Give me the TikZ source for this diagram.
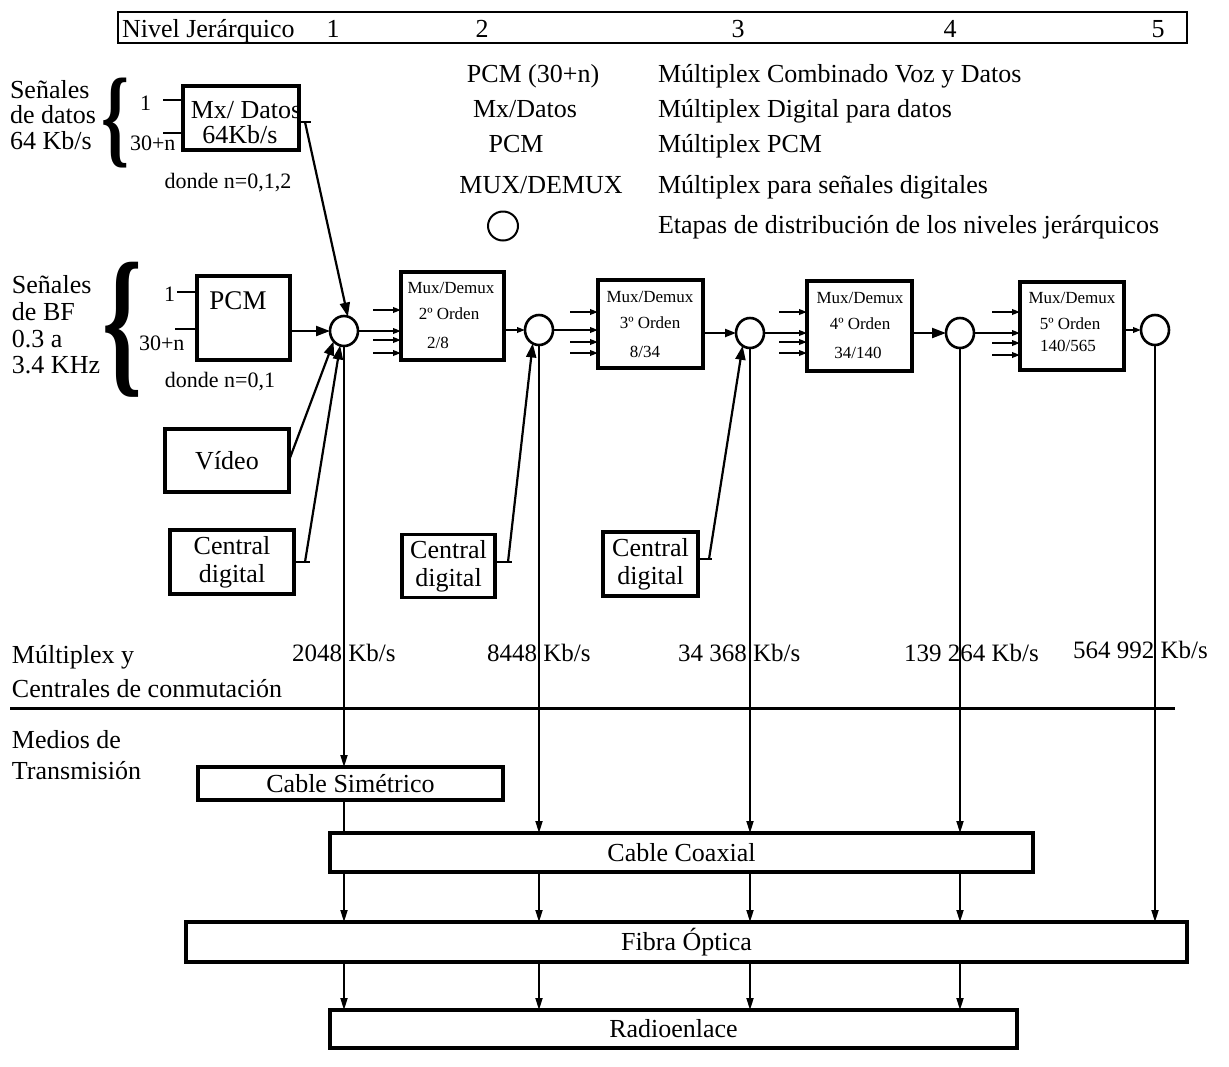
\documentclass[tikz,border=0pt]{standalone}
\usepackage{fontspec}
\setmainfont{Liberation Serif}
\usepackage{graphicx}
\usetikzlibrary{arrows.meta,shapes.geometric}
\begin{document}
\begin{tikzpicture}[x=1pt,y=1pt,
  every node/.style={inner sep=0pt, outer sep=0pt},
  big/.style={font=\fontsize{26}{28}\selectfont},
  mid/.style={font=\fontsize{22}{22}\selectfont},
  small/.style={font=\fontsize{17}{17}\selectfont},
  rate/.style={font=\fontsize{25}{25}\selectfont},
  blk/.style={draw, rectangle, line width=3.2pt},
  stage/.style={draw, ellipse, line width=2.6pt, minimum width=28pt, minimum height=30pt},
  wire/.style={line width=2.2pt},
  bigarrow/.style={line width=2.2pt, -{Triangle[length=14pt,width=10pt]}},
  midarrow/.style={line width=2.2pt, -{Triangle[length=11pt,width=8pt]}},
  inarrow/.style={line width=2.2pt, -{Triangle[length=8pt,width=5.5pt]}},
  varrow/.style={line width=1.8pt, -{Triangle[length=12pt,width=7pt]}},
  vline/.style={line width=1.8pt}
]
\useasboundingbox (0,0) rectangle (1229,-1066);

% ---- hierarchy header ----
\node[draw, line width=2.4pt, minimum width=1069pt, minimum height=31pt] (hdr) at (652.5,-27.5) {};
\node[big, anchor=base west] (hdrt) at (122,-37) {Nivel Jerárquico};
\node[big, anchor=base] (lv1) at (333,-37) {1};
\node[big, anchor=base] (lv2) at (482,-37) {2};
\node[big, anchor=base] (lv3) at (738,-37) {3};
\node[big, anchor=base] (lv4) at (950,-37) {4};
\node[big, anchor=base] (lv5) at (1158,-37) {5};

% ---- legend ----
\node[big, anchor=base] (lg1) at (533,-82) {PCM (30+n)};
\node[big, anchor=base] (lg2) at (525,-117) {Mx/Datos};
\node[big, anchor=base] (lg3) at (516,-152) {PCM};
\node[big, anchor=base] (lg4) at (541,-193) {MUX/DEMUX};
\node[draw, ellipse, line width=2pt, minimum width=30pt, minimum height=29pt] (lgc) at (503,-226) {};
\node[big, anchor=base west] (ld1) at (658,-82) {Múltiplex Combinado Voz y Datos};
\node[big, anchor=base west] (ld2) at (658,-117) {Múltiplex Digital para datos};
\node[big, anchor=base west] (ld3) at (658,-152) {Múltiplex PCM};
\node[big, anchor=base west] (ld4) at (658,-193) {Múltiplex para señales digitales};
\node[big, anchor=base west] (ld5) at (658,-233) {Etapas de distribución de los niveles jerárquicos};

% ---- data signals ----
\node[big, anchor=base west] (sd1) at (10,-98) {Señales};
\node[big, anchor=base west] (sd2) at (10,-123) {de datos};
\node[big, anchor=base west] (sd3) at (10,-149) {64 Kb/s};
\node (br1) at (116,-123) {\resizebox*{28pt}{90pt}{\bfseries\{}};
\node[blk, minimum width=116pt, minimum height=64pt] (mxd) at (241,-118) {};
\node[big, anchor=base] (mxdt1) at (246,-118) {Mx/ Datos};
\node[big, anchor=base] (mxdt2) at (240,-143) {64Kb/s};
\node[mid, anchor=base east] (mxi1) at (151,-110) {1};
\node[mid, anchor=base west] (mxi2) at (130,-150) {30+n};
\draw[wire] ([xshift=-20pt,yshift=18pt]mxd.west) -- ([yshift=18pt]mxd.west);
\draw[wire] ([xshift=-20pt,yshift=-15pt]mxd.west) -- ([yshift=-15pt]mxd.west);
\node[mid, anchor=base] (mxdn) at (228,-188) {donde n=0,1,2};
\draw[wire] ([yshift=-4pt]mxd.east) -- ++(12,0);
\coordinate (mxo) at ([xshift=6pt,yshift=-4pt]mxd.east);

% ---- voice band signals ----
\node[big, anchor=base west] (sb1) at (12,-293) {Señales};
\node[big, anchor=base west] (sb2) at (12,-320) {de BF};
\node[big, anchor=base west] (sb3) at (12,-347) {0.3 a};
\node[big, anchor=base west] (sb4) at (12,-373) {3.4 KHz};
\node (br2) at (123,-330) {\resizebox*{40pt}{135pt}{\bfseries\{}};
\node[blk, minimum width=93pt, minimum height=84pt] (pcm) at (243.5,-318) {};
\node[font=\fontsize{27}{27}\selectfont, anchor=base] (pcmt) at (238,-309) {PCM};
\node[mid, anchor=base east] (pci1) at (175,-301) {1};
\node[mid, anchor=base west] (pci2) at (139,-350) {30+n};
\draw[wire] ([xshift=-20pt,yshift=26pt]pcm.west) -- ([yshift=26pt]pcm.west);
\draw[wire] ([xshift=-22pt,yshift=-11pt]pcm.west) -- ([yshift=-11pt]pcm.west);
\node[mid, anchor=base] (pcmn) at (220,-387) {donde n=0,1};

% ---- distribution stages ----
\node[stage] (c1) at (344,-331) {};
\node[stage] (c2) at (539,-330) {};
\node[stage] (c3) at (750,-333) {};
\node[stage] (c4) at (960,-333) {};
\node[stage] (c5) at (1155,-330) {};

% ---- higher order multiplexers ----
\node[blk, minimum width=103pt, minimum height=88pt] (m2) at (452.5,-316) {};
\node[blk, minimum width=105pt, minimum height=88pt] (m3) at (650.5,-324) {};
\node[blk, minimum width=105pt, minimum height=90pt] (m4) at (859.5,-326) {};
\node[blk, minimum width=104pt, minimum height=88pt] (m5) at (1072,-326) {};

\node[small, anchor=base] (m2a) at (451,-293) {Mux/Demux};
\node[small, anchor=base] (m2b) at (449,-319) {2º Orden};
\node[small, anchor=base] (m2c) at (438,-348) {2/8};
\node[small, anchor=base] (m3a) at (650,-302) {Mux/Demux};
\node[small, anchor=base] (m3b) at (650,-328) {3º Orden};
\node[small, anchor=base] (m3c) at (645,-357) {8/34};
\node[small, anchor=base] (m4a) at (860,-303) {Mux/Demux};
\node[small, anchor=base] (m4b) at (860,-329) {4º Orden};
\node[small, anchor=base] (m4c) at (858,-358) {34/140};
\node[small, anchor=base] (m5a) at (1072,-303) {Mux/Demux};
\node[small, anchor=base] (m5b) at (1070,-329) {5º Orden};
\node[small, anchor=base] (m5c) at (1068,-351) {140/565};

% tributary inputs of each multiplexer
\foreach \m/\ya/\yb/\yc in {m2/6/-24/-37, m3/12/-18/-29, m4/14/-16/-27, m5/14/-17/-29} {
  \foreach \s in {\ya,\yb,\yc}
    \draw[inarrow] ([xshift=-28pt,yshift=\s pt]\m.west) -- ([yshift=\s pt]\m.west);
}

% chain of stages and multiplexers
\draw[bigarrow] (pcm.east |- c1.west) -- (c1.west);
\draw[inarrow] (c1.east) -- (c1.east -| m2.west);
\draw[inarrow] (m2.east |- c2.west) -- (c2.west);
\draw[inarrow] (c2.east) -- (c2.east -| m3.west);
\draw[midarrow] (m3.east |- c3.west) -- (c3.west);
\draw[inarrow] (c3.east) -- (c3.east -| m4.west);
\draw[bigarrow] (m4.east |- c4.west) -- (c4.west);
\draw[inarrow] (c4.east) -- (c4.east -| m5.west);
\draw[inarrow] (m5.east |- c5.west) -- (c5.west);

\draw[bigarrow] (mxo) -- (c1.75);

% ---- video and exchanges ----
\node[blk, minimum width=124pt, minimum height=63pt, big] (vid) at (227,-460.5) {Vídeo};
\draw[bigarrow] (vid.east) -- (c1.225);

\node[blk, minimum width=124pt, minimum height=64pt, big, align=center] (cd1) at (232,-562) {Central\\digital};
\node[blk, minimum width=93pt, minimum height=63pt, big, align=center] (cd2) at (448.5,-566) {Central\\digital};
\node[blk, minimum width=95pt, minimum height=64pt, big, align=center] (cd3) at (650.5,-564) {Central\\digital};

\draw[wire] (cd1.east) -- ++(16,0);
\coordinate (cd1o) at ([xshift=11pt]cd1.east);
\draw[bigarrow] (cd1o) -- (c1.255);
\draw[wire] ([yshift=4pt]cd2.east) -- ++(17,0);
\coordinate (cd2o) at ([xshift=13pt,yshift=4pt]cd2.east);
\draw[bigarrow] (cd2o) -- (c2.245);
\draw[wire] ([yshift=5pt]cd3.east) -- ++(14,0);
\coordinate (cd3o) at ([xshift=11pt,yshift=5pt]cd3.east);
\draw[bigarrow] (cd3o) -- (c3.240);

% ---- bit rates ----
\node[big, anchor=base west] (mx1) at (12,-663) {Múltiplex y};
\node[big, anchor=base west] (mx2) at (12,-697) {Centrales de conmutación};
\node[rate, anchor=base west] (r1) at (292,-661) {2048 Kb/s};
\node[rate, anchor=base west] (r2) at (487,-661) {8448 Kb/s};
\node[rate, anchor=base west] (r3) at (678,-661) {34 368 Kb/s};
\node[rate, anchor=base west] (r4) at (904,-661) {139 264 Kb/s};
\node[rate, anchor=base west] (r5) at (1073,-658) {564 992 Kb/s};

\draw[line width=3pt] (10,-708) -- (1175,-708);

\node[big, anchor=base west] (md1) at (12,-748) {Medios de};
\node[big, anchor=base west] (md2) at (12,-779) {Transmisión};

% ---- transmission media ----
\node[blk, minimum width=305pt, minimum height=33pt, big] (sim) at (350.5,-783.5) {Cable Simétrico};
\node[blk, minimum width=703pt, minimum height=39pt, big] (coax) at (681.5,-852.5) {Cable Coaxial};
\node[blk, minimum width=1001pt, minimum height=40pt, big] (fib) at (686.5,-942) {Fibra Óptica};
\node[blk, minimum width=687pt, minimum height=38pt, big] (rad) at (673.5,-1029) {Radioenlace};

\draw[varrow] (c1.south) -- (c1.south |- sim.north);
\draw[vline] (c1.south |- sim.south) -- (c1.south |- coax.north);
\foreach \c in {c2,c3,c4}
  \draw[varrow] (\c.south) -- (\c.south |- coax.north);
\draw[varrow] (c5.south) -- (c5.south |- fib.north);
\foreach \c in {c1,c2,c3,c4} {
  \draw[varrow] (\c.south |- coax.south) -- (\c.south |- fib.north);
  \draw[varrow] (\c.south |- fib.south) -- (\c.south |- rad.north);
}
\end{tikzpicture}
\end{document}
